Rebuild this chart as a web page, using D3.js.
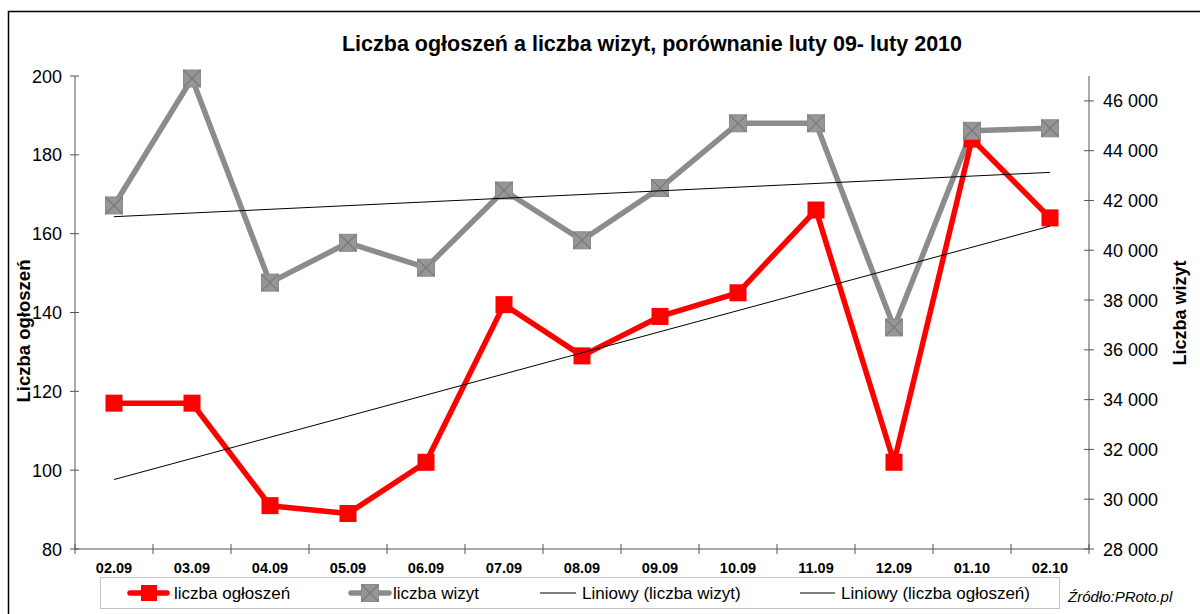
<!DOCTYPE html>
<html>
<head>
<meta charset="utf-8">
<script src="https://cdn.jsdelivr.net/npm/d3@7"></script>
<style>
  body { margin: 0; background: #fff; }
  svg { font-family: "Liberation Sans", Arial, sans-serif; }
</style>
</head>
<body>
<svg width="1200" height="614"></svg>
<script>
const months = ["02.09", "03.09", "04.09", "05.09", "06.09", "07.09", "08.09", "09.09", "10.09", "11.09", "12.09", "01.10", "02.10"]
const ogloszenia = [117, 117, 91, 89, 102, 142, 129, 139, 145, 166, 102, 184, 164]
const wizyty = [41800, 46900, 38700, 40300, 39300, 42400, 40400, 42500, 45100, 45100, 36900, 44800, 44900]
const leftTicks = [80, 100, 120, 140, 160, 180, 200]
const rightTicks = [28000, 30000, 32000, 34000, 36000, 38000, 40000, 42000, 44000, 46000]

const svg = d3.select("svg")
const axisColor = "#555"

// outer frame (cut by the picture on right and bottom)
svg.append("rect")
    .attr("x", 8.5).attr("y", 11.5)
    .attr("width", 1300).attr("height", 700)
    .attr("fill", "none").attr("stroke", "#000").attr("stroke-width", 1.5)

const plot = {left: 75, right: 1089, top: 76, bottom: 549}

const x = d3.scaleBand().domain(months).range([plot.left, plot.right])
const yL = d3.scaleLinear().domain([80, 200]).range([plot.bottom, plot.top])
const yR = d3.scaleLinear().domain([28000, 47000]).range([plot.bottom, plot.top])
const cx = d => x(d) + x.bandwidth() / 2

// title
svg.append("text")
    .attr("x", 652).attr("y", 51)
    .attr("text-anchor", "middle")
    .attr("font-size", 21.5).attr("font-weight", "bold")
    .text("Liczba ogłoszeń a liczba wizyt, porównanie luty 09- luty 2010")

// left axis
const gL = svg.append("g")
gL.append("line").attr("x1", plot.left).attr("x2", plot.left)
    .attr("y1", plot.top).attr("y2", plot.bottom).attr("stroke", axisColor)
gL.selectAll("line.tick").data(leftTicks).enter().append("line")
    .attr("x1", plot.left - 5).attr("x2", plot.left + 4)
    .attr("y1", d => yL(d)).attr("y2", d => yL(d)).attr("stroke", axisColor)
gL.selectAll("text").data(leftTicks).enter().append("text")
    .attr("x", plot.left - 13).attr("y", d => yL(d) + 6.5)
    .attr("text-anchor", "end").attr("font-size", 18)
    .text(d => d)

// right axis
const gR = svg.append("g")
gR.append("line").attr("x1", plot.right).attr("x2", plot.right)
    .attr("y1", plot.top).attr("y2", plot.bottom).attr("stroke", axisColor)
gR.selectAll("line.tick").data(rightTicks).enter().append("line")
    .attr("x1", plot.right - 5).attr("x2", plot.right + 5)
    .attr("y1", d => yR(d)).attr("y2", d => yR(d)).attr("stroke", axisColor)
gR.selectAll("text").data(rightTicks).enter().append("text")
    .attr("x", plot.right + 14).attr("y", d => yR(d) + 6.5)
    .attr("font-size", 18)
    .text(d => d3.format(",")(d).replace(",", " "))

// x axis
const gX = svg.append("g")
gX.append("line").attr("x1", plot.left).attr("x2", plot.right)
    .attr("y1", plot.bottom).attr("y2", plot.bottom).attr("stroke", axisColor)
gX.selectAll("line.tick").data(months.concat(["end"])).enter().append("line")
    .attr("x1", (d, i) => plot.left + i * x.step())
    .attr("x2", (d, i) => plot.left + i * x.step())
    .attr("y1", plot.bottom - 5).attr("y2", plot.bottom + 5)
    .attr("stroke", axisColor)
gX.selectAll("text").data(months).enter().append("text")
    .attr("x", d => cx(d)).attr("y", 573)
    .attr("text-anchor", "middle").attr("font-size", 14.5).attr("font-weight", "bold")
    .text(d => d)

// axis titles
svg.append("text")
    .attr("transform", "translate(30,331) rotate(-90)")
    .attr("text-anchor", "middle").attr("font-size", 18.5).attr("font-weight", "bold")
    .text("Liczba ogłoszeń")
svg.append("text")
    .attr("transform", "translate(1186,313) rotate(-90)")
    .attr("text-anchor", "middle").attr("font-size", 18).attr("font-weight", "bold")
    .text("Liczba wizyt")

// linear trends (least squares, like Excel "Liniowy")
function trend(values) {
    const xs = values.map((v, i) => i)
    const mx = d3.mean(xs), my = d3.mean(values)
    const slope = d3.sum(xs, (xv, i) => (xv - mx) * (values[i] - my)) / d3.sum(xs, xv => (xv - mx) ** 2)
    return values.map((v, i) => my + slope * (i - mx))
}

const lineL = d3.line().x((d, i) => cx(months[i])).y(d => yL(d))
const lineR = d3.line().x((d, i) => cx(months[i])).y(d => yR(d))

// wizyty series
svg.append("path").datum(wizyty)
    .attr("d", lineR).attr("fill", "none")
    .attr("stroke", "#8c8c8c").attr("stroke-width", 5.5).attr("stroke-linejoin", "round")

function greyMarker(sel, px, py) {
    const s = 8.5
    const g = sel.append("g").attr("transform", `translate(${px},${py})`)
    g.append("rect").attr("x", -s).attr("y", -s).attr("width", 2 * s).attr("height", 2 * s)
        .attr("fill", "#969696").attr("stroke", "#8a8a8a").attr("stroke-width", 1)
    g.append("path").attr("d", `M${-s},${-s}L${s},${s}M${-s},${s}L${s},${-s}`)
        .attr("stroke", "#7a7a7a").attr("stroke-width", 1.2)
}

// ogłoszenia series
svg.append("path").datum(ogloszenia)
    .attr("d", lineL).attr("fill", "none")
    .attr("stroke", "#ff0000").attr("stroke-width", 5.5).attr("stroke-linejoin", "round")
svg.selectAll("rect.red").data(ogloszenia).enter().append("rect")
    .attr("class", "red")
    .attr("x", (d, i) => cx(months[i]) - 8.5).attr("y", d => yL(d) - 8.5)
    .attr("width", 17).attr("height", 17).attr("fill", "#ff0000")

wizyty.forEach((v, i) => greyMarker(svg, cx(months[i]), yR(v)))

// trend lines
svg.append("path").datum(trend(wizyty))
    .attr("d", lineR).attr("fill", "none").attr("stroke", "#000").attr("stroke-width", 1)
svg.append("path").datum(trend(ogloszenia))
    .attr("d", lineL).attr("fill", "none").attr("stroke", "#000").attr("stroke-width", 1)

// legend
const leg = svg.append("g")
leg.append("rect")
    .attr("x", 100.5).attr("y", 577.5).attr("width", 959).attr("height", 31)
    .attr("fill", "none").attr("stroke", "#888").attr("stroke-dasharray", "1,1")
const ly = 593
leg.append("line").attr("x1", 130).attr("x2", 167).attr("y1", ly).attr("y2", ly)
    .attr("stroke", "#ff0000").attr("stroke-width", 5.5).attr("stroke-linecap", "round")
leg.append("rect").attr("x", 141).attr("y", ly - 8).attr("width", 16).attr("height", 16).attr("fill", "#ff0000")
leg.append("text").attr("x", 174).attr("y", ly + 6).attr("font-size", 17).text("liczba ogłoszeń")

leg.append("line").attr("x1", 351).attr("x2", 389).attr("y1", ly).attr("y2", ly)
    .attr("stroke", "#8c8c8c").attr("stroke-width", 5.5).attr("stroke-linecap", "round")
greyMarker(leg, 370, ly)
leg.append("text").attr("x", 393).attr("y", ly + 6).attr("font-size", 17).text("liczba wizyt")

leg.append("line").attr("x1", 540).attr("x2", 576).attr("y1", ly).attr("y2", ly).attr("stroke", "#000")
leg.append("text").attr("x", 582).attr("y", ly + 6).attr("font-size", 17).text("Liniowy (liczba wizyt)")

leg.append("line").attr("x1", 800).attr("x2", 835).attr("y1", ly).attr("y2", ly).attr("stroke", "#000")
leg.append("text").attr("x", 841).attr("y", ly + 6).attr("font-size", 17).text("Liniowy (liczba ogłoszeń)")

svg.append("text").attr("x", 1068).attr("y", ly + 9)
    .attr("font-size", 15).attr("font-style", "italic").text("Źródło:PRoto.pl")
</script>
</body>
</html>
